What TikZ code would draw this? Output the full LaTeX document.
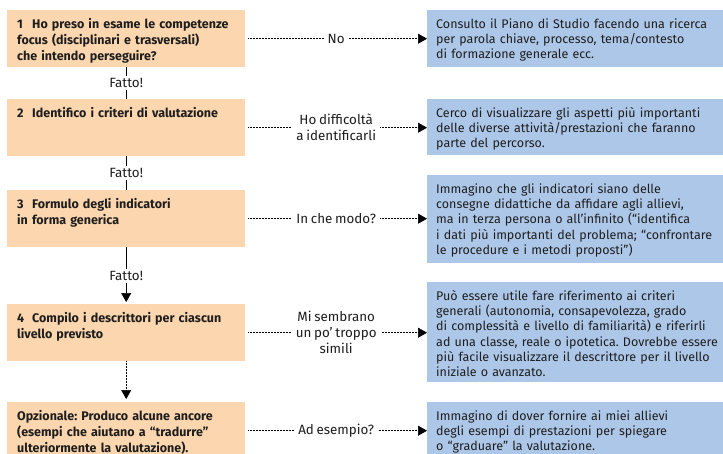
\documentclass[tikz,border=0pt]{standalone}
\usepackage{fontspec}
\setmainfont[WordSpace=0.75]{Fira Sans}
\usetikzlibrary{arrows.meta}
\definecolor{peach}{HTML}{FBD6AE}
\definecolor{sky}{HTML}{ADC7E8}
\definecolor{ink}{HTML}{1E1E1E}
\tikzset{
    lbox/.style={fill=peach, anchor=north west, text width=218pt, inner xsep=10pt, inner ysep=9pt,
        text height=9pt, text depth=30pt, text=ink, font=\fontsize{12.5}{16}\selectfont\bfseries},
    rbox/.style={fill=sky, anchor=north west, text width=310pt, inner xsep=9pt, inner ysep=8pt,
        text height=10pt, text depth=#1, text=ink, font=\fontsize{12.5}{15.3}\selectfont},
    midlab/.style={fill=white, align=center, inner sep=4pt, text=ink, font=\fontsize{13.4}{16}\selectfont},
    fatto/.style={fill=white, inner sep=2.5pt, text=ink, font=\fontsize{13.4}{16}\selectfont},
    dotline/.style={line width=0.6pt, dash pattern=on 0.7pt off 0.8pt},
    tip/.style={-{Triangle[length=9pt,width=10pt]}}
}
\newcommand{\stepno}[1]{\hyphenpenalty 10000 \hangindent 15pt \hangafter 1 \makebox[15pt][l]{#1}}
\begin{document}
\frenchspacing
\begin{tikzpicture}[x=1pt, y=-1pt]
    \useasboundingbox (0, 0) rectangle (723, 453);
    \node[lbox] (l1) at (7, 10) {\stepno{1}Ho preso in esame le competenze\newline focus (disciplinari e trasversali)\newline che intendo perseguire?};
    \node[lbox] (l2) at (7, 99) {\stepno{2}Identifico i criteri di valutazione};
    \node[lbox] (l3) at (7, 190) {\stepno{3}Formulo degli indicatori\newline in forma generica};
    \node[lbox] (l4) at (7, 304) {\stepno{4}Compilo i descrittori per ciascun\newline livello previsto};
    \node[lbox] (l5) at (7, 402) {Opzionale: Produco alcune ancore\newline (esempi che aiutano a “tradurre”\newline ulteriormente la valutazione).};
    \node[rbox=31pt] (r1) at (427, 10) {Consulto il Piano di Studio facendo una ricerca\newline per parola chiave, processo, tema/contesto\newline di formazione generale ecc.};
    \node[rbox=30pt] (r2) at (427, 99) {Cerco di visualizzare gli aspetti più importanti\newline delle diverse attività/prestazioni che faranno\newline parte del percorso.};
    \node[rbox=62pt] (r3) at (427, 175) {Immagino che gli indicatori siano delle\newline consegne didattiche da affidare agli allievi,\newline ma in terza persona o all’infinito (“identifica\newline i dati più importanti del problema; “confrontare\newline le procedure e i metodi proposti”)};
    \node[rbox=74pt] (r4) at (427, 282) {Può essere utile fare riferimento ai criteri\newline generali (autonomia, consapevolezza, grado\newline di complessità e livello di familiarità) e riferirli\newline ad una classe, reale o ipotetica. Dovrebbe essere\newline più facile visualizzare il descrittore per il livello\newline iniziale o avanzato.};
    \node[rbox=31pt] (r5) at (427, 402) {Immagino di dover fornire ai miei allievi\newline degli esempi di prestazioni per spiegare\newline o “graduare” la valutazione.};
    \foreach \i/\t in {1/No, 2/{Ho difficoltà\\a identificarli}, 3/{In che modo?}, 4/{Mi sembrano\\un po’ troppo\\simili}, 5/{Ad esempio?}} {
        \draw[dotline, tip, shorten <=3pt] (l\i.east) -- node[midlab] {\t} (l\i.east -| r\i.west);
    };
    \draw[line width=0.6pt] (l1) -- node[fatto] {Fatto!} (l2);
    \draw[line width=0.6pt] (l2) -- node[fatto] {Fatto!} (l3);
    \draw[line width=0.6pt, tip, shorten >=2pt] (l3) -- node[fatto] {Fatto!} (l4);
    \draw[dotline, tip, shorten >=3pt] (l4) -- (l5);
\end{tikzpicture}
\end{document}
